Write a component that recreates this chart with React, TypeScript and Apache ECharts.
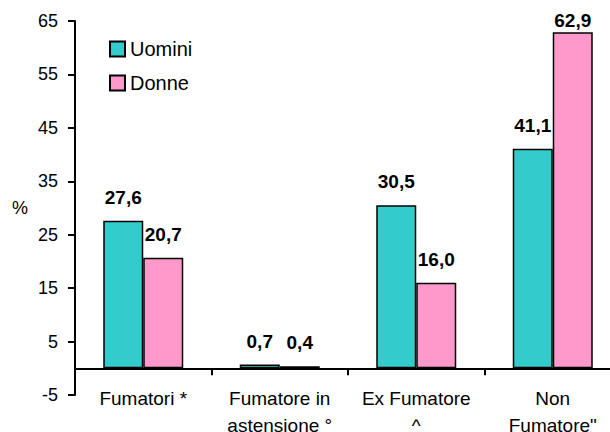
import React, { useEffect, useRef } from "react";
import * as echarts from "echarts";

const categories = ["Fumatori *", "Fumatore in\nastensione °", "Ex Fumatore\n^", "Non\nFumatore\""];
const uomini = [27.6, 0.7, 30.5, 41.1];
const donne = [20.7, 0.4, 16.0, 62.9];
const seriesNames = ["Uomini", "Donne"];
const yTicks = { min: -5, max: 65, interval: 10 };

const FONT = "'Liberation Sans', Arial, sans-serif";

const fmt = (v: number) => v.toFixed(1).replace(".", ",");

export default function App() {
  const ref = useRef<HTMLDivElement>(null);
  useEffect(() => {
    if (!ref.current) return;
    const chart = echarts.init(ref.current, undefined, { renderer: "svg" });
    const labelBase = {
      show: true,
      position: "top" as const,
      distance: 14,
      fontFamily: FONT,
      fontSize: 19,
      fontWeight: "bold" as const,
      color: "#000",
      formatter: (p: any) => fmt(p.value),
    };
    const mk = (arr: number[]) =>
      arr.map((v) => (v > 60 ? { value: v, label: { distance: 2 } } : v));
    chart.setOption({
      animation: false,
      backgroundColor: "#fff",
      grid: {
        left: 75,
        right: -11,
        top: 21,
        bottom: 37,
        containLabel: false,
        outerBoundsMode: "none",
      },
      legend: {
        orient: "vertical",
        left: 104,
        top: 34,
        itemWidth: 15,
        itemHeight: 15,
        itemGap: 14,
        icon: "rect",
        textStyle: { fontFamily: FONT, fontSize: 20, color: "#000" },
        data: seriesNames,
      },
      xAxis: {
        type: "category",
        data: categories,
        axisLine: { onZero: true, lineStyle: { color: "#000", width: 2 } },
        axisTick: { show: true, length: 7, lineStyle: { color: "#000", width: 2 } },
        axisLabel: {
          fontFamily: FONT,
          fontSize: 19,
          color: "#000",
          lineHeight: 27,
          margin: -10,
          interval: 0,
        },
      },
      yAxis: {
        type: "value",
        min: yTicks.min,
        max: yTicks.max,
        interval: yTicks.interval,
        splitLine: { show: false },
        axisLine: { show: true, lineStyle: { color: "#000", width: 2 } },
        axisTick: { show: true, length: 7, lineStyle: { color: "#000", width: 2 } },
        axisLabel: { fontFamily: FONT, fontSize: 18, color: "#000", margin: 17 },
      },
      graphic: [
        {
          type: "text",
          left: 12,
          top: 199,
          style: { text: "%", fontFamily: FONT, fontSize: 18, fill: "#000" },
        },
      ],
      series: [
        {
          name: seriesNames[0],
          type: "bar",
          data: mk(uomini),
          barWidth: 40,
          barGap: "0%",
          itemStyle: { color: "#33CCCC", borderColor: "#000", borderWidth: 1.5 },
          label: labelBase,
        },
        {
          name: seriesNames[1],
          type: "bar",
          data: mk(donne),
          barWidth: 40,
          barGap: "0%",
          itemStyle: { color: "#FF99CC", borderColor: "#000", borderWidth: 1.5 },
          label: labelBase,
        },
      ],
    });
    return () => chart.dispose();
  }, []);
  return (
    <div
      ref={ref}
      style={{ position: "absolute", left: 0, top: 0, width: 610, height: 432 }}
    />
  );
}
